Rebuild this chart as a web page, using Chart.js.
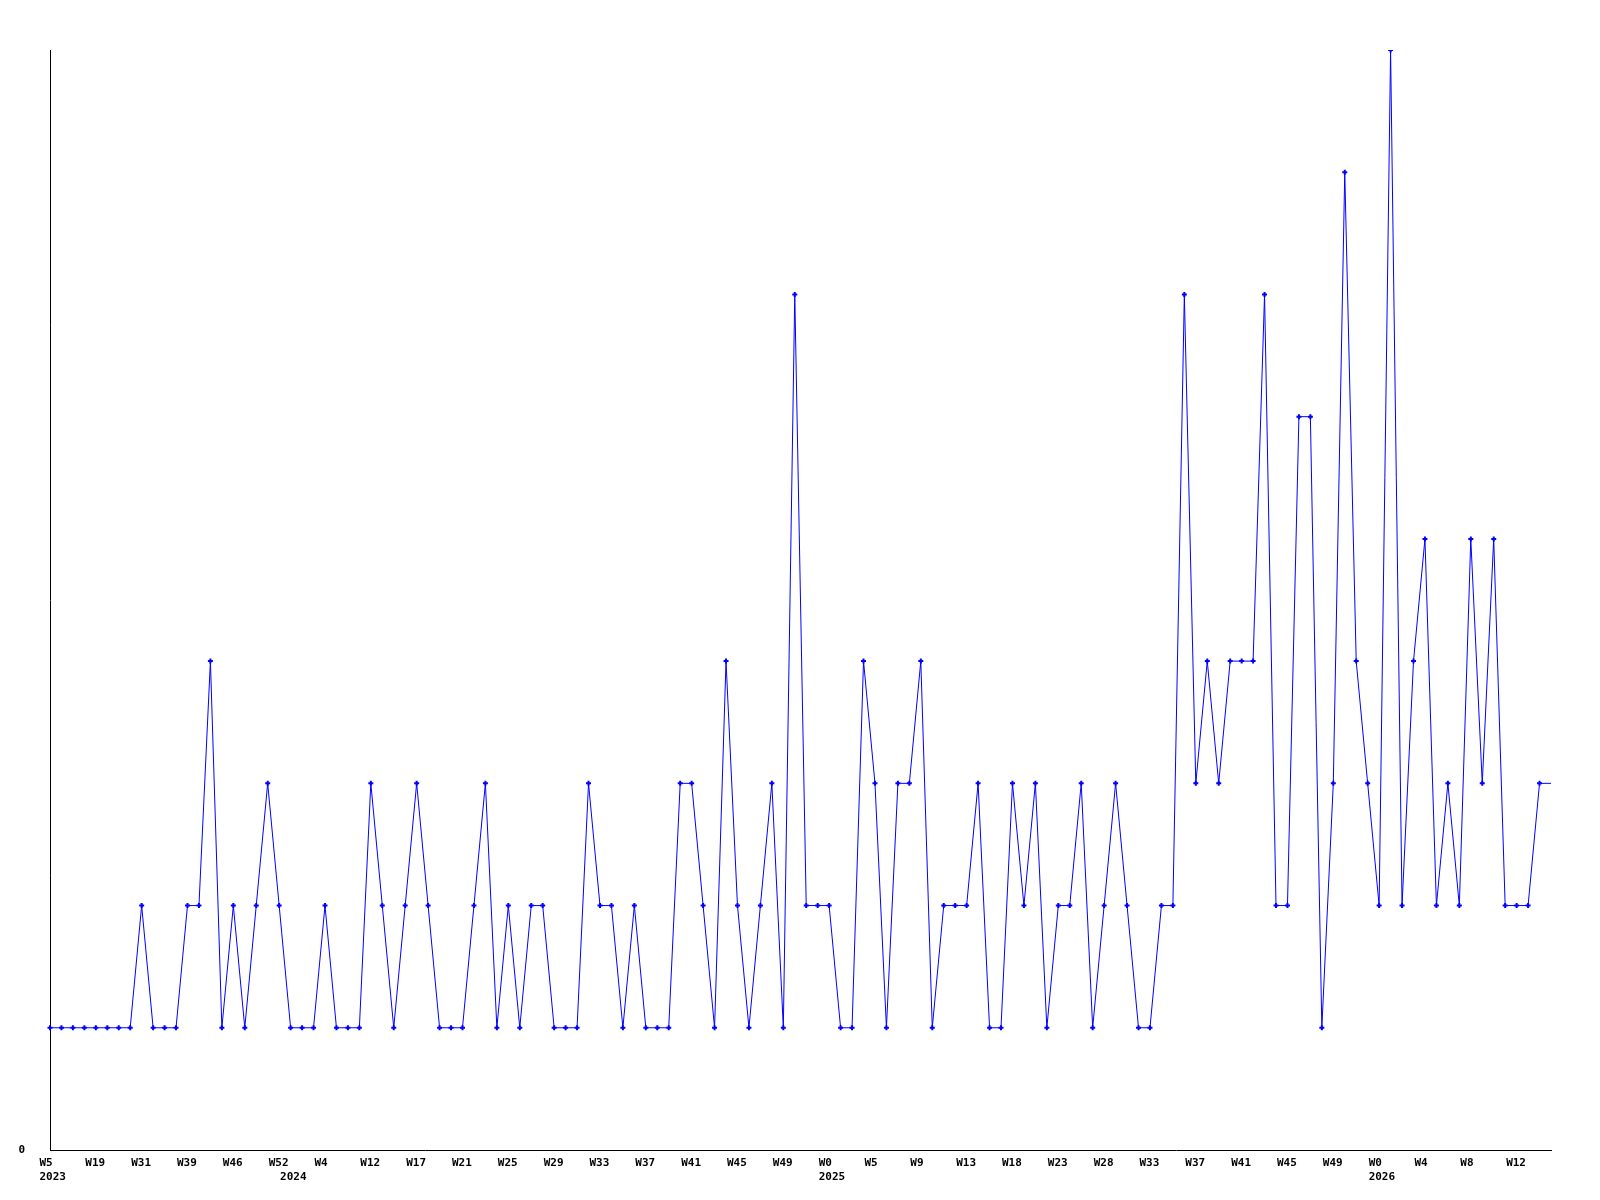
<!DOCTYPE html>
<html>
<head>
<meta charset="utf-8">
<title>Weekly counts</title>
<script src="https://cdn.jsdelivr.net/npm/chart.js@4.4.1/dist/chart.umd.min.js"></script>
<style>
  html, body { margin: 0; padding: 0; background: #fff; }
  #wrap { width: 1600px; height: 1200px; }
</style>
</head>
<body>
<div id="wrap"><canvas id="chart" width="1600" height="1200"></canvas></div>
<script>
// one value per week; the last one has no marker (line runs to the axis end)
const values = [
  1, 1, 1, 1, 1, 1, 1, 1, 2, 1, 1, 1, 2, 2, 4, 1, 2, 1, 2, 3,
  2, 1, 1, 1, 2, 1, 1, 1, 3, 2, 1, 2, 3, 2, 1, 1, 1, 2, 3, 1,
  2, 1, 2, 2, 1, 1, 1, 3, 2, 2, 1, 2, 1, 1, 1, 3, 3, 2, 1, 4,
  2, 1, 2, 3, 1, 7, 2, 2, 2, 1, 1, 4, 3, 1, 3, 3, 4, 1, 2, 2,
  2, 3, 1, 1, 3, 2, 3, 1, 2, 2, 3, 1, 2, 3, 2, 1, 1, 2, 2, 7,
  3, 4, 3, 4, 4, 4, 7, 2, 2, 6, 6, 1, 3, 8, 4, 3, 2, 9, 2, 4,
  5, 2, 3, 2, 5, 3, 5, 2, 2, 2, 3, 3
];

// week labels shown on every 4th point
const weekTicks = [
  'W5', 'W19', 'W31', 'W39', 'W46', 'W52', 'W4', 'W12', 'W17', 'W21', 'W25',
  'W29', 'W33', 'W37', 'W41', 'W45', 'W49', 'W0', 'W5', 'W9', 'W13', 'W18',
  'W23', 'W28', 'W33', 'W37', 'W41', 'W45', 'W49', 'W0', 'W4', 'W8', 'W12'
];
const tickEvery = 4;

// year labels, second line, at the first week of each year
const years = ['2023', '2024', '2025', '2026'];
const yearIdx = [0, 21, 68, 116];

const categories = values.map((v, i) => i % tickEvery === 0 ? weekTicks[i / tickEvery] : '');

const tickFont = { family: 'DejaVu Sans Mono', size: 11, weight: 'bold', lineHeight: 1.27 };

new Chart(document.getElementById('chart'), {
  type: 'line',
  data: {
    labels: categories,
    datasets: [{
      data: values,
      borderColor: '#0000ff',
      backgroundColor: '#0000ff',
      borderWidth: 1,
      tension: 0,
      pointStyle: 'cross',
      pointRadius: ctx => ctx.dataIndex === values.length - 1 ? 0 : 2.5,
      pointBorderWidth: 2,
      pointHoverRadius: 0
    }]
  },
  options: {
    responsive: false,
    animation: false,
    events: [],
    layout: { padding: { left: 0, top: 50, right: 49, bottom: 0 } },
    plugins: {
      legend: { display: false },
      tooltip: { enabled: false }
    },
    scales: {
      x: {
        offset: false,
        grid: { display: false, drawTicks: false },
        border: { display: true, color: '#000', width: 1 },
        afterFit: s => { s.height = 50; },
        ticks: {
          autoSkip: false,
          maxRotation: 0,
          minRotation: 0,
          align: 'start',
          labelOffset: -10.5,
          padding: 6,
          color: '#000',
          font: tickFont,
          callback: (value, index) => {
            const wk = index % tickEvery === 0 ? weekTicks[index / tickEvery] : '';
            const yi = yearIdx.indexOf(index);
            if (yi >= 0) return [wk, years[yi]];
            return wk || null;
          }
        }
      },
      y: {
        min: 0,
        max: 9,
        grid: { display: false, drawTicks: false },
        border: { display: true, color: '#000', width: 1 },
        afterFit: s => { s.width = 50; },
        ticks: {
          stepSize: 1,
          padding: 25,
          color: '#000',
          font: tickFont,
          callback: v => v === 0 ? '0' : null
        }
      }
    }
  }
});
</script>
</body>
</html>
